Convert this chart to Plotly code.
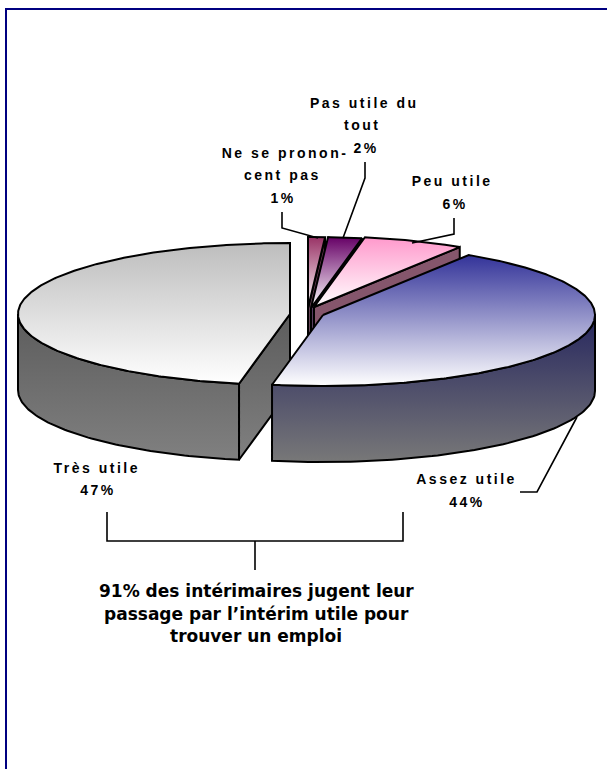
import numpy as np
import plotly.graph_objects as go

# Data (clockwise from 12 o'clock)
categories = ["Ne se prononcent pas", "Pas utile du tout", "Peu utile", "Assez utile", "Très utile"]
values = [1, 2, 6, 44, 47]
percent_labels = ["1%", "2%", "6%", "44%", "47%"]

# Styling
top_colors = ["#993366", "#660066", "#ff99cc", "#333399", "#bdbdbd"]
side_top = ["#5c2a44", "#3d1a4d", "#85566c", "#26265e", "#5c5c5c"]
side_bottom = ["#6e5a66", "#6e5a70", "#85566c", "#787878", "#808080"]
apex_x = [308, 311, 314, 323, 290]
apex_y = [308, 308, 307, 315, 314]
RX, RY, DEPTH = 272, 71, 76
draw_order = [4, 0, 1, 2, 3]

fig = go.Figure()


def poly(xs, ys, c0, c1, name):
    xs = list(xs) + [xs[0]]
    ys = list(ys) + [ys[0]]
    fig.add_trace(go.Scatter(
        x=xs, y=ys, mode="lines", fill="toself", name=name, hoverinfo="name",
        line=dict(color="black", width=2), showlegend=False,
        fillgradient=dict(type="vertical", colorscale=[[0, c0], [1, c1]],
                          start=min(ys), stop=max(ys)),
    ))


edges = np.cumsum([0] + values) / np.sum(values) * 360.0
for i in draw_order:
    a, b = edges[i], edges[i + 1]
    ax, ay = apex_x[i], apex_y[i]
    px = lambda t: ax + RX * np.sin(np.radians(t))
    py = lambda t: ay - RY * np.cos(np.radians(t))
    name = categories[i]
    # flat cut faces turned towards the viewer
    for ang, visible in ((a, np.sin(np.radians(a)) < -1e-9), (b, np.sin(np.radians(b)) > 1e-9)):
        if visible:
            poly([ax, px(ang), px(ang), ax], [ay, py(ang), py(ang) + DEPTH, ay + DEPTH],
                 side_top[i], side_bottom[i], name)
    # outer rim, front half only
    lo, hi = max(a, 90), min(b, 270)
    if hi > lo:
        t = np.linspace(lo, hi, 80)
        poly(list(px(t)) + list(px(t[::-1])),
             list(py(t)) + list(py(t[::-1]) + DEPTH),
             side_top[i], side_bottom[i], name)
    # top face
    t = np.linspace(a, b, max(8, int((b - a) * 2)))
    poly([ax] + list(px(t)), [ay] + list(py(t)), top_colors[i], "#ffffff", name)

# Leader lines and brace (page pixels)
leaders = [
    [(282, 212), (282, 228), (318, 238)],
    [(365, 162), (365, 178), (343, 238)],
    [(454, 218), (454, 234), (412, 243)],
    [(520, 492), (537, 492), (577, 417)],
    [(107, 512), (107, 541), (403, 541), (403, 512)],
    [(255, 541), (255, 570)],
]
shapes = []
for pts in leaders:
    path = "M " + " L ".join(f"{x},{y}" for x, y in pts)
    shapes.append(dict(type="path", path=path, xref="x", yref="y", line=dict(color="black", width=1.6)))
# Frame
shapes.append(dict(type="line", xref="x", yref="y", x0=6, x1=6, y0=8, y1=769, line=dict(color="#000080", width=2)))
shapes.append(dict(type="line", xref="x", yref="y", x0=5, x1=607, y0=9, y1=9, line=dict(color="#000080", width=2)))

label_lines = [
    ("Pas utile du", 364, 103), ("tout", 362, 125), ("2%", 366, 148),
    ("Ne se pronon-", 285, 153), ("cent pas", 282, 175), ("1%", 283, 198),
    ("Peu utile", 452, 181), ("6%", 455, 204),
    ("Assez utile", 466, 479), ("44%", 467, 502),
    ("Très utile", 97, 468), ("47%", 98, 490),
]
annotations = [dict(x=x, y=y, xref="x", yref="y", text=t, showarrow=False, xanchor="center", yanchor="middle",
                    font=dict(family="Liberation Sans", size=14, color="black", weight="bold"))
               for t, x, y in label_lines]
note_lines = [("91% des intérimaires jugent leur", 256, 591),
              ("passage par l’intérim utile pour", 256, 614),
              ("trouver un emploi", 256, 636)]
annotations += [dict(x=x, y=y, xref="x", yref="y", text=t, showarrow=False, xanchor="center", yanchor="middle",
                     font=dict(family="DejaVu Sans", size=17, color="black", weight="bold"))
                for t, x, y in note_lines]

fig.update_layout(
    width=607, height=769, margin=dict(l=0, r=0, t=0, b=0), autosize=False,
    paper_bgcolor="white", plot_bgcolor="white", showlegend=False,
    xaxis=dict(range=[0, 607], visible=False, fixedrange=True),
    yaxis=dict(range=[769, 0], visible=False, fixedrange=True),
    shapes=shapes, annotations=annotations,
)
page_js = """
document.body.style.margin = '0';
document.documentElement.style.overflow = 'hidden';
document.querySelectorAll('.annotation-text').forEach(function(el){
  if ((el.style.fontFamily || '').indexOf('Liberation') >= 0) { el.style.letterSpacing = '2.5px'; }
});
"""
fig.write_html("out.html", post_script=page_js, config={"displayModeBar": False})
